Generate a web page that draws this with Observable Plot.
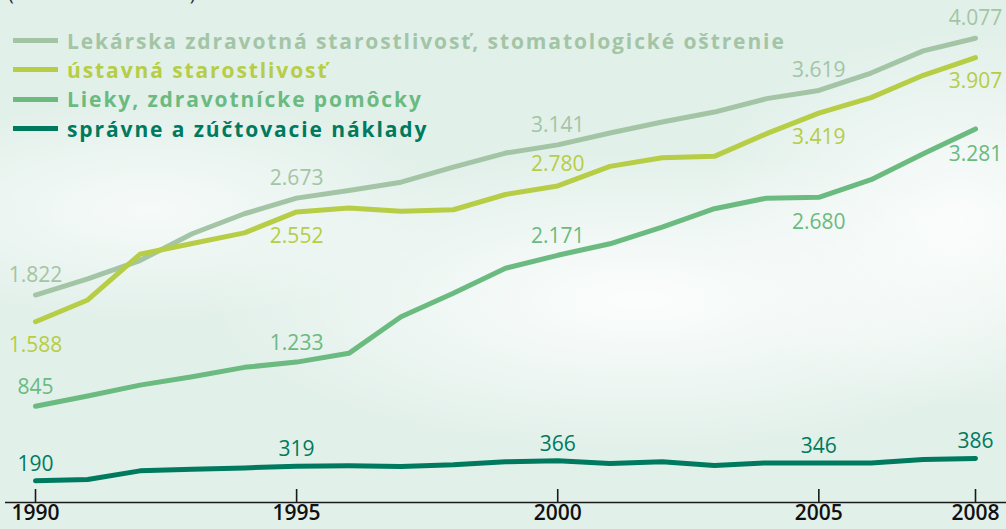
<!DOCTYPE html>
<html>
<head>
<meta charset="utf-8">
<script src="https://cdn.jsdelivr.net/npm/d3@7"></script>
<script src="https://cdn.jsdelivr.net/npm/@observablehq/plot@0.6"></script>
<style>
  html, body { margin: 0; padding: 0; }
  #wrap {
    position: relative; width: 1006px; height: 529px; overflow: hidden;
    font-family: "Open Sans", "Noto Sans", sans-serif;
    background:
      radial-gradient(ellipse 430px 150px at 640px 300px, rgba(255,255,255,0.9), rgba(255,255,255,0) 100%),
      radial-gradient(ellipse 260px 190px at 960px 220px, rgba(255,255,255,0.85), rgba(255,255,255,0) 100%),
      radial-gradient(ellipse 300px 110px at 150px 210px, rgba(255,255,255,0.7), rgba(255,255,255,0) 100%),
      #e2f0ea;
  }
  #unit { position: absolute; left: 8px; top: -21px; font-size: 20px; color: #333; letter-spacing: 2px; white-space: nowrap; }
  #legend { position: absolute; left: 13px; top: 26px; }
  .row { display: flex; align-items: center; height: 29.3px; }
  .sw { width: 45px; height: 5px; margin-right: 9px; }
  .lab { font-size: 21px; font-weight: 700; letter-spacing: 1.9px; white-space: nowrap; }
  #chart svg { position: absolute; left: 0; top: 0; }
</style>
</head>
<body>
<div id="wrap">
  <div id="chart"></div>
  <div id="unit">(v miliónoch eur)</div>
  <div id="legend"></div>
</div>
<script>
const years = [1990,1991,1992,1993,1994,1995,1996,1997,1998,1999,2000,2001,2002,2003,2004,2005,2006,2007,2008];
const seriesNames = [
  "Lekárska zdravotná starostlivosť, stomatologické oštrenie",
  "ústavná starostlivosť",
  "Lieky, zdravotnícke pomôcky",
  "správne a zúčtovacie náklady"
];
const seriesColors = ["#a3c5a5", "#b6cd45", "#6bba80", "#007a5e"];
const lekarska = [1822,1964,2125,2360,2536,2673,2740,2813,2946,3069,3141,3245,3342,3429,3547,3619,3772,3966,4077];
const ustavna  = [1588,1779,2180,2274,2368,2552,2586,2558,2571,2705,2780,2952,3028,3040,3239,3419,3556,3752,3907];
const lieky    = [845,935,1031,1105,1187,1233,1310,1632,1837,2057,2171,2272,2418,2580,2673,2680,2835,3063,3281];
const spravne  = [190,202,278,293,304,319,322,316,331,357,366,342,357,325,348,346,346,377,386];
const tickYears = [1990,1995,2000,2005,2008];
const labelYears = [1990,1995,2000,2005,2008];

const seriesValues = [lekarska, ustavna, lieky, spravne];
const rows = [];
seriesValues.forEach((vals, s) => vals.forEach((v, i) => rows.push({series: seriesNames[s], year: years[i], value: v})));
const labels = rows.filter(d => labelYears.includes(d.year));

const fmt = v => v >= 1000 ? Math.floor(v / 1000) + "." + String(v % 1000).padStart(3, "0") : String(v);

// legend
const legend = document.getElementById("legend");
seriesNames.forEach((n, i) => {
  const r = document.createElement("div"); r.className = "row";
  const sw = document.createElement("div"); sw.className = "sw"; sw.style.background = seriesColors[i];
  const t = document.createElement("div"); t.className = "lab"; t.style.color = seriesColors[i]; t.textContent = n;
  r.appendChild(sw); r.appendChild(t); legend.appendChild(r);
});

const W = 1006, H = 529, mT = 1, mB = 27, yMax = 4400;
const pxPerUnit = (H - mT - mB) / yMax;
const S = seriesNames;
const txt = (filter, dy) => Plot.text(labels, {
  filter, x: "year", y: "value", text: d => fmt(d.value), fill: "series",
  dy, fontSize: 21, textAnchor: "middle", lineAnchor: "middle"
});

const chart = Plot.plot({
  width: W, height: H, marginTop: mT, marginBottom: mB, marginLeft: 5, marginRight: 0,
  style: {background: "transparent", fontFamily: "'Open Sans', 'Noto Sans', sans-serif", overflow: "visible"},
  x: {domain: [1990, 2008], range: [35, 975], label: null},
  y: {domain: [0, yMax], axis: null},
  color: {domain: seriesNames, range: seriesColors},
  marks: [
    Plot.ruleY([0], {stroke: "#1a1a1a", strokeWidth: 1.6}),
    Plot.ruleX(tickYears, {x: d => d, y1: 0, y2: 13 / pxPerUnit, stroke: "#1a1a1a", strokeWidth: 1.6}),
    Plot.axisX({ticks: tickYears, tickSize: 0, tickPadding: 3, fontSize: 21, label: null, tickFormat: d => String(d), color: "#111", fontWeight: 600}),
    Plot.line(rows, {x: "year", y: "value", z: "series", stroke: "series", strokeWidth: 5, strokeLinejoin: "round"}),
    txt(d => d.series === S[0], -20),
    txt(d => d.series === S[1] && d.year !== 2000, 24),
    txt(d => d.series === S[1] && d.year === 2000, -22),
    txt(d => d.series === S[2] && d.year <= 2000, -19),
    txt(d => d.series === S[2] && d.year > 2000, 25),
    txt(d => d.series === S[3], -17)
  ]
});
document.getElementById("chart").appendChild(chart);
</script>
</body>
</html>
